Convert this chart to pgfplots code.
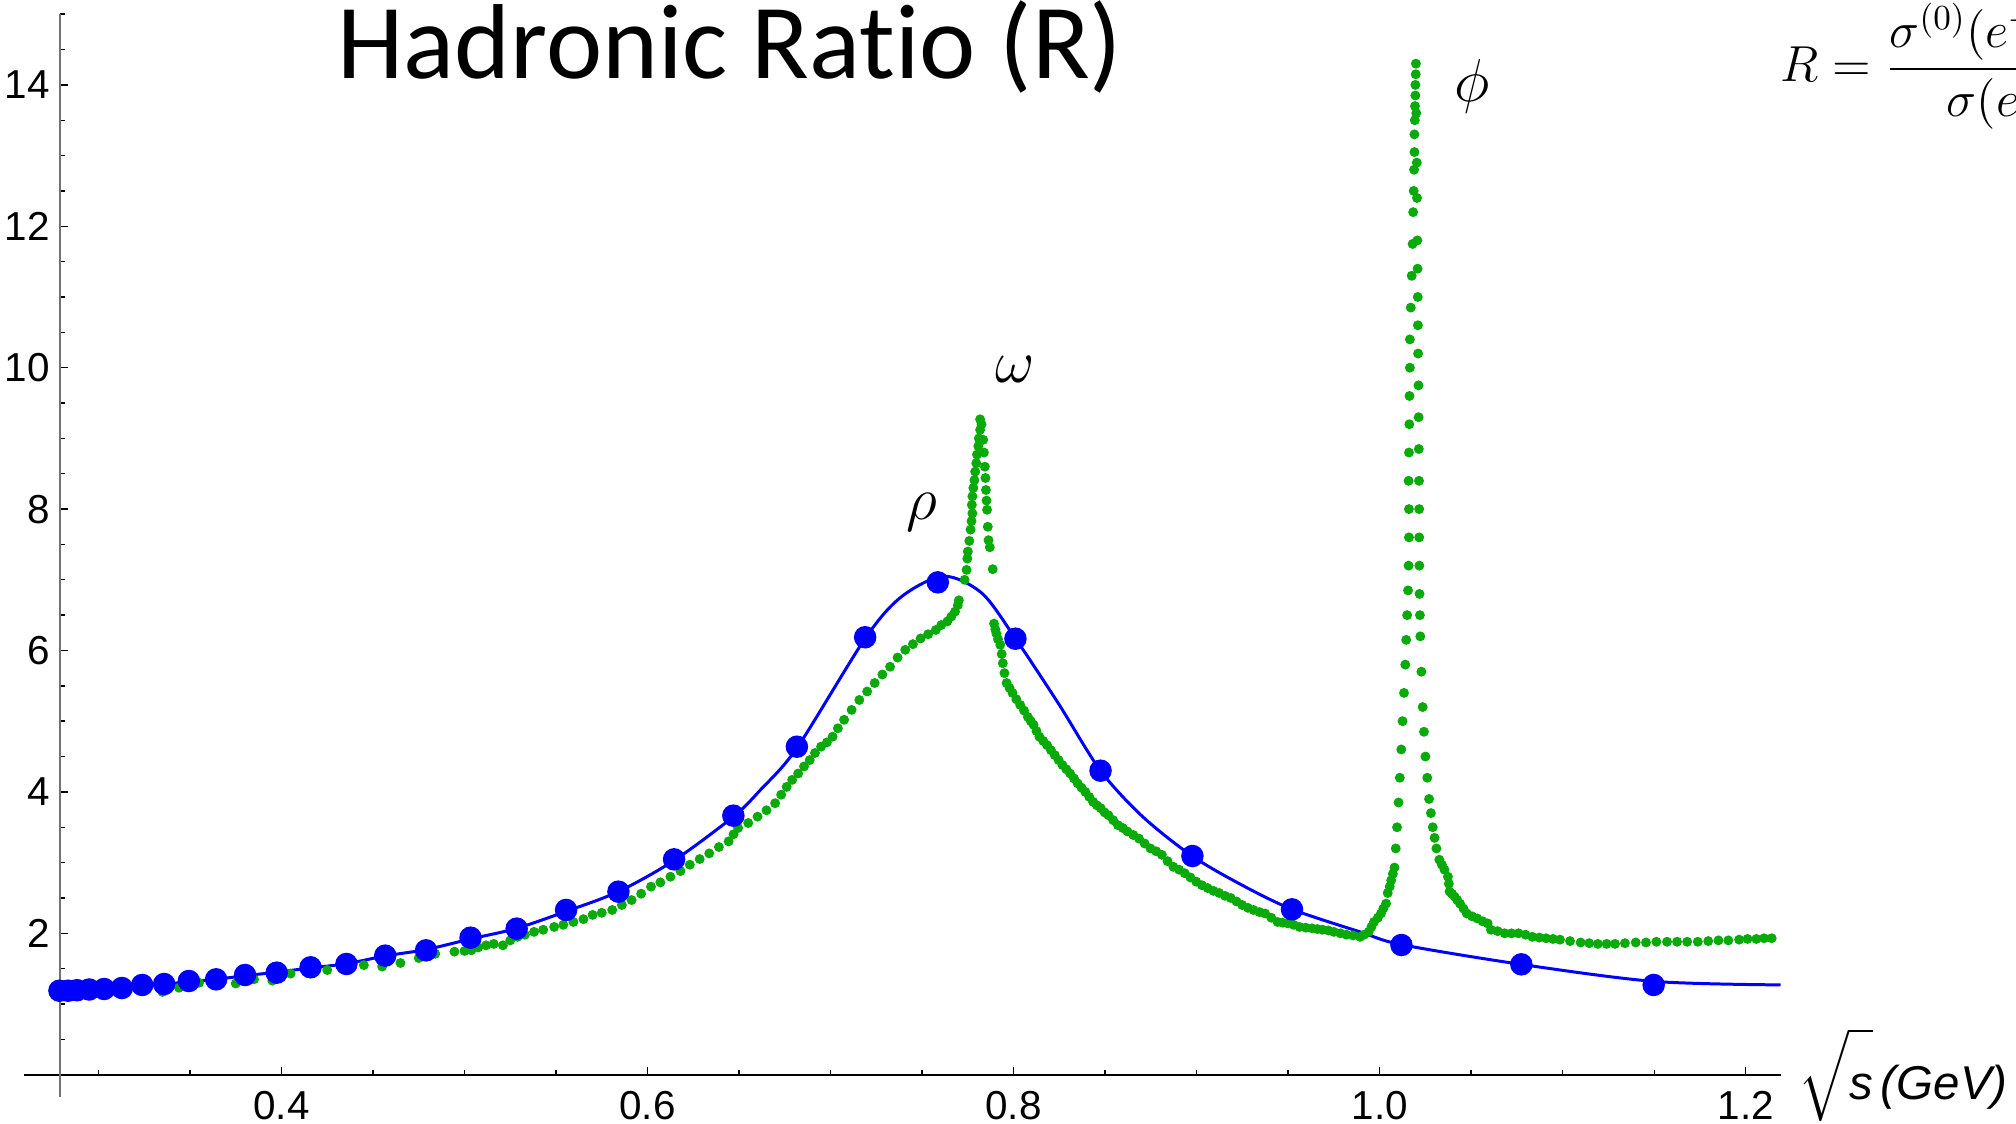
\documentclass[border=0pt]{standalone}
\usepackage{amsmath}
\usepackage{fontspec}
\setmainfont{Liberation Sans}
\newfontfamily\titlefont[Ligatures=NoCommon]{Carlito}
\usepackage{pgfplots}
\pgfplotsset{compat=1.18}
\definecolor{mgreen}{RGB}{10,170,10}
\definecolor{mblue}{RGB}{0,0,255}

\begin{document}
\begin{tikzpicture}
\useasboundingbox (0,0) rectangle (20.16cm,11.24cm);
\begin{axis}[
  at={(0.60cm,0.493cm)}, anchor=south west,
  scale only axis, width=17.205cm, height=10.605cm,
  xmin=0.279, xmax=1.219, ymin=0, ymax=15,
  enlargelimits=false, clip=false,
  axis lines=left,
  axis line style={-},
  x axis line style={black, line width=0.5pt, shorten <=-0.36cm},
  y axis line style={black!55, line width=0.6pt, shorten <=-0.227cm},
  tick align=inside,
  xtick={0.4,0.6,0.8,1.0,1.2},
  xticklabels={0.4,0.6,0.8,1.0,1.2},
  ytick={2,4,6,8,10,12,14},
  yticklabels={2,4,6,8,10,12,14},
  minor xtick={0.3,0.35,0.45,0.5,0.55,0.65,0.7,0.75,0.85,0.9,0.95,1.05,1.1,1.15},
  minor ytick={0.5,1,1.5,2.5,3,3.5,4.5,5,5.5,6.5,7,7.5,8.5,9,9.5,10.5,11,11.5,12.5,13,13.5,14.5,15},
  major tick length=0.8mm, minor tick length=0.45mm,
  every tick/.style={black, line width=0.4pt},
  xticklabel style={font=\fontsize{11.5}{13}\selectfont, yshift=-0.45mm},
  yticklabel style={font=\fontsize{11.5}{13}\selectfont, xshift=0.2mm},
]
% fitted curve
\addplot[mblue, line width=0.85pt, smooth, no marks] table {
0.2790 1.188
0.2866 1.190
0.2959 1.198
0.3038 1.212
0.3131 1.226
0.3232 1.255
0.3359 1.280
0.3494 1.315
0.3643 1.350
0.3801 1.400
0.3974 1.450
0.4159 1.510
0.4355 1.570
0.4567 1.680
0.4790 1.770
0.5033 1.920
0.5285 2.070
0.5555 2.310
0.5841 2.590
0.6145 3.030
0.6469 3.650
0.6614 4.020
0.6816 4.620
0.7189 6.170
0.7387 6.760
0.7618 7.050
0.7827 6.810
0.8010 6.170
0.8245 5.250
0.8475 4.300
0.8705 3.650
0.8977 3.090
0.9249 2.680
0.9521 2.340
0.9893 2.020
1.0119 1.840
1.0774 1.560
1.1497 1.320
1.2190 1.270
};
% data (green)
\addplot[only marks, mark=*, mark size=1.2pt, color=mgreen, mark options={draw=mgreen, fill=mgreen}] table {
0.3350 1.17
0.3440 1.23
0.3550 1.30
0.3660 1.30
0.3750 1.29
0.3850 1.35
0.3950 1.33
0.4050 1.43
0.4150 1.45
0.4250 1.48
0.4350 1.52
0.4450 1.55
0.4550 1.53
0.4650 1.58
0.4750 1.65
0.4840 1.71
0.4945 1.74
0.5000 1.75
0.5038 1.76
0.5075 1.80
0.5118 1.83
0.5160 1.85
0.5210 1.83
0.5250 1.90
0.5290 1.95
0.5330 1.98
0.5380 2.02
0.5430 2.05
0.5490 2.09
0.5540 2.12
0.5595 2.16
0.5650 2.20
0.5700 2.26
0.5750 2.29
0.5807 2.33
0.5860 2.40
0.5913 2.47
0.5965 2.56
0.6019 2.66
0.6070 2.72
0.6125 2.80
0.6180 2.88
0.6231 2.97
0.6285 3.05
0.6337 3.13
0.6390 3.22
0.6443 3.30
0.6470 3.40
0.6495 3.49
0.6550 3.56
0.6601 3.65
0.6650 3.74
0.6697 3.84
0.6730 3.96
0.6760 4.07
0.6790 4.17
0.6823 4.26
0.6855 4.36
0.6886 4.45
0.6915 4.55
0.6948 4.64
0.6980 4.70
0.7011 4.78
0.7040 4.90
0.7074 5.02
0.7115 5.16
0.7157 5.30
0.7200 5.42
0.7241 5.54
0.7283 5.66
0.7325 5.77
0.7366 5.90
0.7408 6.01
0.7450 6.09
0.7492 6.17
0.7533 6.23
0.7575 6.29
0.7605 6.36
0.7638 6.41
0.7660 6.48
0.7680 6.55
0.7695 6.64
0.7701 6.71
0.7732 7.00
0.7743 7.14
0.7747 7.30
0.7750 7.40
0.7758 7.55
0.7765 7.71
0.7770 7.83
0.7775 7.94
0.7772 8.06
0.7775 8.18
0.7780 8.30
0.7786 8.41
0.7790 8.53
0.7796 8.65
0.7800 8.77
0.7807 8.89
0.7810 9.00
0.7817 9.12
0.7817 9.27
0.7825 9.20
0.7834 8.98
0.7838 8.80
0.7843 8.60
0.7846 8.44
0.7849 8.27
0.7852 8.12
0.7855 7.99
0.7859 7.75
0.7863 7.56
0.7870 7.46
0.7886 7.15
0.7893 6.38
0.7900 6.30
0.7906 6.24
0.7915 6.16
0.7927 6.08
0.7935 5.95
0.7941 5.82
0.7950 5.68
0.7962 5.54
0.7978 5.47
0.7994 5.40
0.8015 5.31
0.8036 5.23
0.8057 5.15
0.8078 5.06
0.8094 5.00
0.8109 4.95
0.8125 4.86
0.8141 4.78
0.8162 4.72
0.8183 4.66
0.8204 4.59
0.8225 4.52
0.8246 4.45
0.8267 4.38
0.8288 4.32
0.8309 4.26
0.8330 4.19
0.8350 4.12
0.8371 4.06
0.8392 4.00
0.8413 3.93
0.8434 3.86
0.8455 3.81
0.8476 3.77
0.8497 3.71
0.8518 3.67
0.8544 3.60
0.8570 3.53
0.8596 3.49
0.8622 3.44
0.8654 3.39
0.8685 3.34
0.8716 3.27
0.8748 3.20
0.8779 3.16
0.8810 3.11
0.8841 3.02
0.8873 2.94
0.8904 2.90
0.8935 2.85
0.8966 2.79
0.8998 2.73
0.9029 2.68
0.9060 2.64
0.9092 2.60
0.9123 2.57
0.9155 2.53
0.9186 2.50
0.9218 2.45
0.9249 2.40
0.9280 2.36
0.9311 2.33
0.9343 2.30
0.9374 2.28
0.9408 2.22
0.9442 2.16
0.9470 2.15
0.9499 2.14
0.9530 2.12
0.9562 2.09
0.9596 2.08
0.9630 2.07
0.9660 2.06
0.9688 2.05
0.9720 2.04
0.9750 2.02
0.9785 2.00
0.9818 1.98
0.9855 1.97
0.9893 1.95
0.9915 1.98
0.9940 2.02
0.9955 2.09
0.9969 2.16
0.9990 2.22
1.0007 2.28
1.0020 2.35
1.0035 2.42
1.0044 2.57
1.0055 2.66
1.0063 2.75
1.0072 2.84
1.0081 2.93
1.0088 3.20
1.0095 3.50
1.0103 3.85
1.0110 4.20
1.0118 4.60
1.0125 5.00
1.0133 5.40
1.0140 5.80
1.0145 6.15
1.0150 6.50
1.0155 6.85
1.0158 7.20
1.0160 7.60
1.0160 8.00
1.0158 8.40
1.0160 8.80
1.0162 9.20
1.0163 9.60
1.0165 10.00
1.0165 10.40
1.0170 10.85
1.0175 11.30
1.0180 11.75
1.0183 12.20
1.0186 12.50
1.0188 12.80
1.0190 13.05
1.0190 13.30
1.0192 13.50
1.0193 13.70
1.0195 13.85
1.0195 14.00
1.0197 14.15
1.0198 14.30
1.0200 13.60
1.0203 12.90
1.0204 12.40
1.0206 11.80
1.0207 11.40
1.0208 11.00
1.0209 10.60
1.0210 10.20
1.0212 9.75
1.0213 9.30
1.0214 8.85
1.0215 8.40
1.0216 8.00
1.0216 7.60
1.0217 7.20
1.0218 6.80
1.0220 6.50
1.0222 6.20
1.0228 5.70
1.0235 5.20
1.0242 4.85
1.0250 4.50
1.0260 4.20
1.0270 3.90
1.0280 3.70
1.0290 3.50
1.0300 3.35
1.0310 3.20
1.0326 3.04
1.0340 2.97
1.0354 2.90
1.0373 2.80
1.0378 2.70
1.0382 2.59
1.0395 2.56
1.0409 2.52
1.0424 2.47
1.0439 2.42
1.0458 2.35
1.0476 2.28
1.0505 2.24
1.0533 2.21
1.0562 2.17
1.0590 2.14
1.0608 2.05
1.0645 2.03
1.0683 2.00
1.0720 2.00
1.0759 2.00
1.0797 1.98
1.0834 1.95
1.0872 1.94
1.0909 1.93
1.0947 1.92
1.0985 1.91
1.1040 1.89
1.1098 1.87
1.1145 1.86
1.1192 1.85
1.1240 1.85
1.1286 1.85
1.1340 1.86
1.1399 1.87
1.1455 1.87
1.1512 1.88
1.1570 1.88
1.1625 1.88
1.1680 1.88
1.1738 1.88
1.1795 1.89
1.1851 1.90
1.1905 1.90
1.1964 1.91
1.2010 1.92
1.2058 1.92
1.2100 1.93
1.2142 1.93
};
% fit points (blue)
\addplot[only marks, mark=*, mark size=3pt, color=mblue, mark options={draw=mblue, fill=mblue}] table {
0.2787 1.188
0.2834 1.188
0.2883 1.195
0.2949 1.205
0.3031 1.212
0.3128 1.226
0.3239 1.269
0.3359 1.283
0.3494 1.325
0.3643 1.349
0.3801 1.410
0.3974 1.443
0.4159 1.519
0.4355 1.566
0.4567 1.684
0.4790 1.759
0.5033 1.938
0.5285 2.066
0.5555 2.330
0.5841 2.589
0.6145 3.046
0.6469 3.664
0.6816 4.639
0.7189 6.187
0.7586 6.964
0.8010 6.167
0.8475 4.300
0.8977 3.093
0.9521 2.339
1.0119 1.834
1.0774 1.561
1.1497 1.269
};
\node at (axis cs:0.7499,7.96) {\fontsize{16}{19}\selectfont$\rho$};
\node at (axis cs:0.8006,9.97) {\fontsize{16}{19}\selectfont$\omega$};
\node at (axis cs:1.0504,13.98) {\fontsize{16}{19}\selectfont$\phi$};
\end{axis}
\node[anchor=base] at (7.30cm,10.45cm) {\titlefont\fontsize{30.3}{35}\selectfont Hadronic Ratio (R)};
\node[anchor=base west, inner sep=0pt] at (17.98cm,0.24cm) {\fontsize{13.5}{16}\selectfont$\sqrt{\rule[-1.1mm]{0pt}{6.6mm}\textit{s}}$\,\textit{(GeV)}};
\node[anchor=base west, inner sep=0pt, overlay] at (17.80cm,10.42cm) {\fontsize{14.6}{17}\selectfont$R=\dfrac{\sigma^{(0)}(e^+e^-\to\mathrm{hadrons})}{\sigma(e^+e^-\to\mu^+\mu^-)}$};
\end{tikzpicture}
\end{document}
